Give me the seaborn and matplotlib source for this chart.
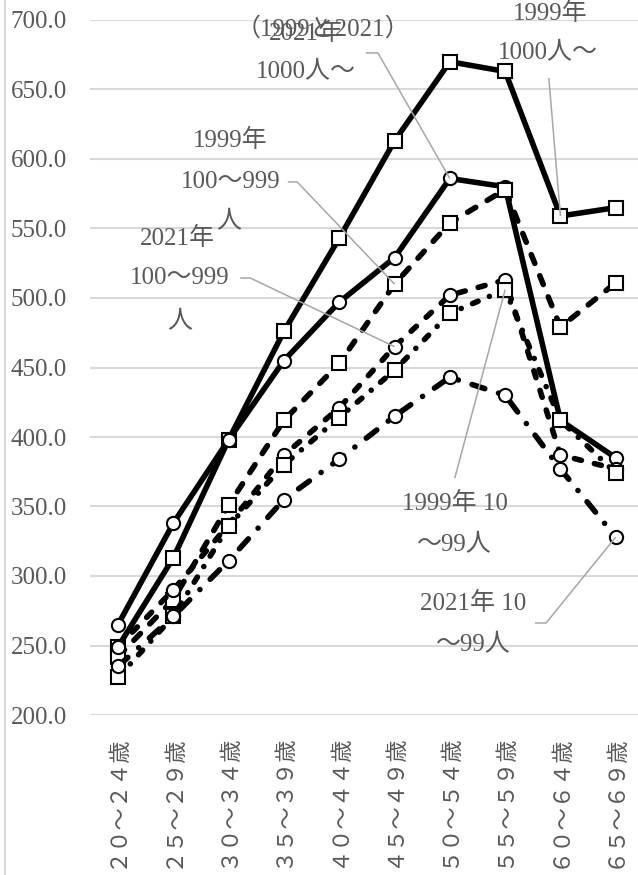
import matplotlib
matplotlib.use("Agg")
import matplotlib.pyplot as plt
from matplotlib.lines import Line2D
from matplotlib.ticker import FormatStrFormatter
import numpy as np
import seaborn as sns

# Age groups (x categories)
age_groups = ["２０～２４歳", "２５～２９歳", "３０～３４歳", "３５～３９歳", "４０～４４歳",
              "４５～４９歳", "５０～５４歳", "５５～５９歳", "６０～６４歳", "６５～６９歳"]

# Monthly wages by company size (thousand yen)
wage_1999_1000 = [249, 313, 398, 476, 543, 613, 670, 663, 559, 565]
wage_2021_1000 = [265, 338, 398, 455, 497, 529, 586, 580, 412, 385]
wage_1999_100 = [242, 283, 351, 412, 453, 510, 554, 578, 479, 511]
wage_2021_100 = [249, 290, 337, 387, 421, 465, 502, 513, 387, 377]
wage_1999_10 = [227, 271, 336, 380, 414, 448, 489, 506, 412, 374]
wage_2021_10 = [235, 271, 311, 355, 384, 415, 443, 430, 377, 328]

y_ticks = [200, 250, 300, 350, 400, 450, 500, 550, 600, 650, 700]

sns.set_style("white")
plt.rcParams["font.family"] = ["Liberation Serif", "Noto Sans CJK JP"]

TEXT = "#595959"
LEADER = "#a6a6a6"

fig = plt.figure(figsize=(6.38, 8.75), dpi=100)
ax = fig.add_axes([90.35 / 638, 1 - 715 / 875, (643.4 - 90.35) / 638, 695 / 875])

series = [
    (wage_1999_1000, "s", "solid"),
    (wage_2021_1000, "o", "solid"),
    (wage_1999_100, "s", (0, (1.7, 2.4))),
    (wage_2021_100, "o", (0, (1.3, 2.4))),
    (wage_1999_10, "s", (0, (1.1, 2.2, 0.01, 2.2))),
    (wage_2021_10, "o", (0, (2.4, 2.6, 0.01, 2.6))),
]

for i, (vals, mk, ls) in enumerate(series):
    sns.lineplot(x=age_groups, y=vals, ax=ax, sort=False, errorbar=None,
                 color="black", linewidth=4, linestyle=ls,
                 dash_capstyle="round", solid_joinstyle="round",
                 marker=mk, markersize=9.5, markerfacecolor="white",
                 markeredgecolor="black", markeredgewidth=1.5, zorder=3 + i * 0.1)

ax.set_xlim(-0.5, 9.5)
ax.set_ylim(200, 700)
ax.set_yticks(y_ticks)
ax.yaxis.set_major_formatter(FormatStrFormatter("%.1f"))
ax.yaxis.grid(True, color="#d9d9d9", linewidth=1.5, zorder=0)
ax.xaxis.grid(False)
ax.set_axisbelow(True)
for sp in ax.spines.values():
    sp.set_visible(False)
ax.set_xlabel("")
ax.set_ylabel("")
ax.tick_params(axis="y", length=0, pad=17, labelsize=18, labelcolor=TEXT)
ax.tick_params(axis="x", length=0, pad=14, labelsize=16, labelcolor=TEXT)
for lbl in ax.get_xticklabels():
    lbl.set_rotation(90)
    lbl.set_ha("center")
    lbl.set_va("top")

# Series labels
def label(x, y, s):
    ax.text(x, y, s, ha="center", va="center", fontsize=18, color=TEXT,
            clip_on=False, zorder=6)

def leader(xs, ys):
    ax.plot(xs, ys, color=LEADER, linewidth=1.1, clip_on=False, zorder=5,
            solid_capstyle="butt")

label(3.71, 693.5, "（1999と2021）")
label(3.40, 690.0, "2021年")
label(3.40, 662.6, "1000人～")
leader([4.48, 4.70, 6], [676.3, 676.3, wage_2021_1000[6]])

label(7.81, 705.0, "1999年")
label(7.78, 676.3, "1000人～")
leader([7.79, 8], [658.3, wage_1999_1000[8]])

label(2.03, 613.7, "1999年")
label(2.03, 583.5, "100～999")
label(2.01, 554.7, "人")
leader([3.07, 3.24, 5], [583.5, 583.5, wage_1999_100[5]])

label(1.07, 543.2, "2021年")
label(1.12, 514.4, "100～999")
label(1.12, 482.7, "人")
leader([2.21, 2.39, 5], [514.4, 514.4, wage_2021_100[5]])

label(6.09, 352.5, "1999年 10")
label(6.09, 322.3, "～99人")
leader([6.09, 7], [370.5, wage_1999_10[7]])

label(6.42, 280.6, "2021年 10")
label(6.42, 250.4, "～99人")
leader([7.54, 7.74, 9], [266.2, 266.2, wage_2021_10[9]])

# Chart-area border on the left
fig.add_artist(Line2D([4.5 / 638, 4.5 / 638], [0, 1], color="#d9d9d9", linewidth=1.5))

fig.savefig("out.png", dpi=100)
